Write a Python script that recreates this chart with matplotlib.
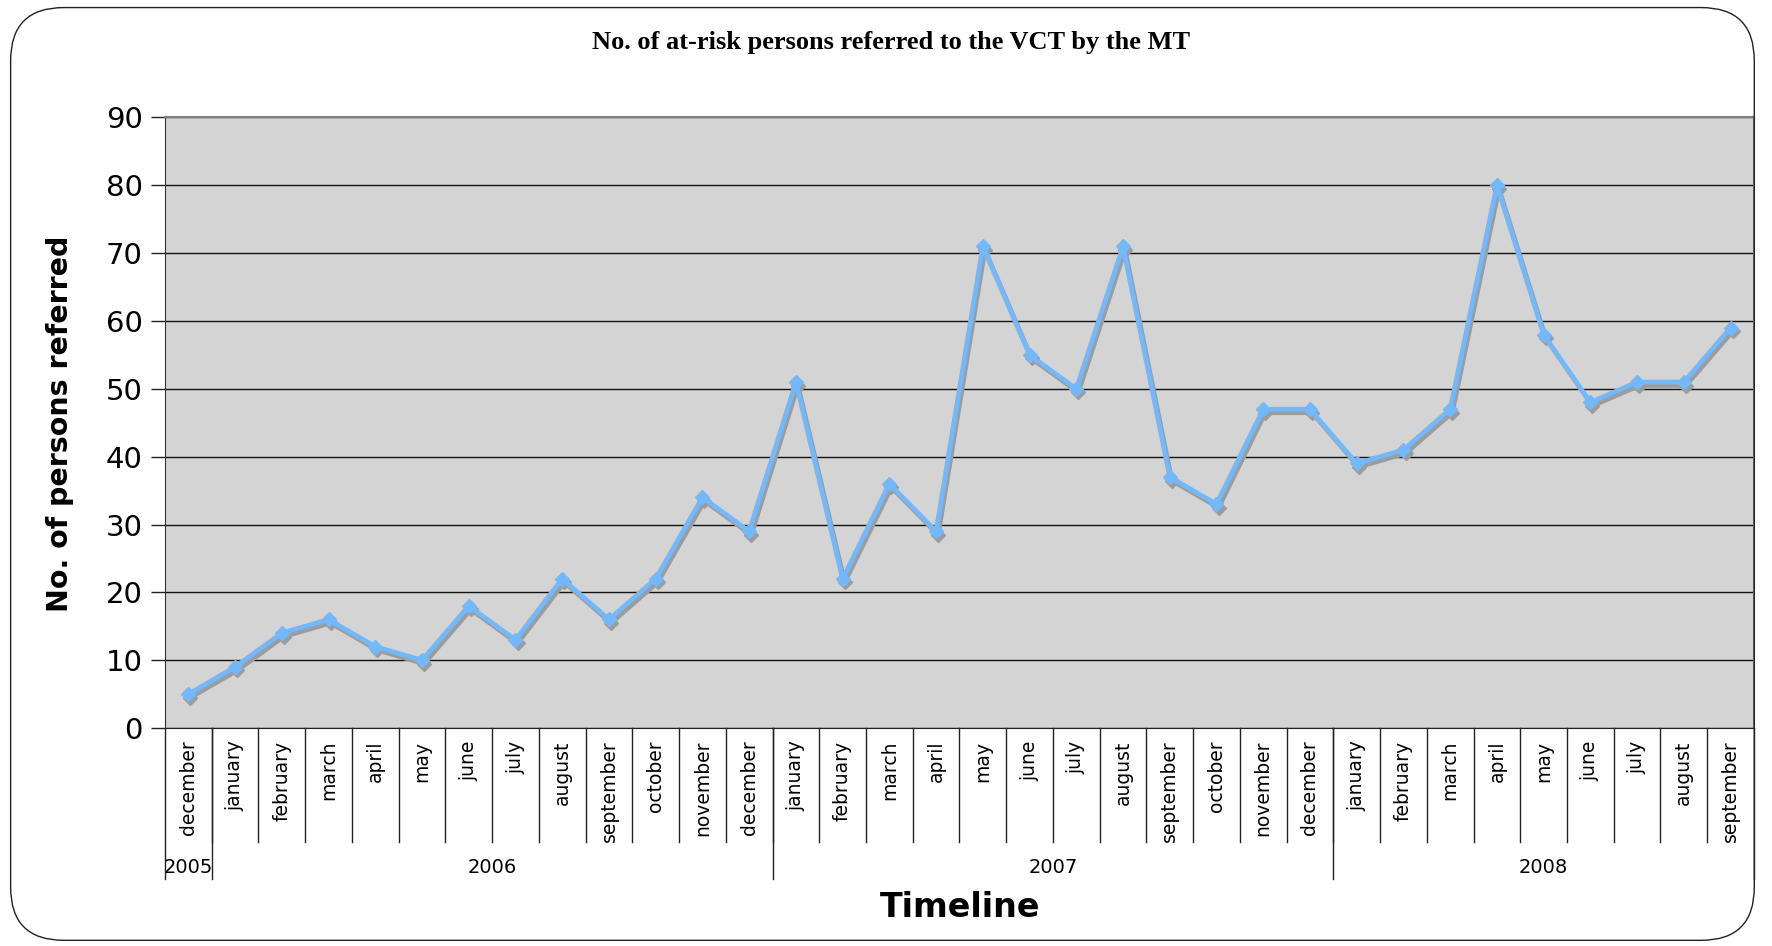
import matplotlib
matplotlib.use("Agg")
import matplotlib.pyplot as plt
import matplotlib.transforms as mtransforms
from matplotlib.patches import FancyBboxPatch
import numpy as np

months = ["december",
          "january", "february", "march", "april", "may", "june", "july",
          "august", "september", "october", "november", "december",
          "january", "february", "march", "april", "may", "june", "july",
          "august", "september", "october", "november", "december",
          "january", "february", "march", "april", "may", "june", "july",
          "august", "september"]
years = ["2005", "2006", "2007", "2008"]
months_per_year = [1, 12, 12, 9]
referred = [5,
            9, 14, 16, 12, 10, 18, 13, 22, 16, 22, 34, 29,
            51, 22, 36, 29, 71, 55, 50, 71, 37, 33, 47, 47,
            39, 41, 47, 80, 58, 48, 51, 51, 59]

fig = plt.figure(figsize=(17.72, 9.46), dpi=100)
fig.patch.set_facecolor("white")

# rounded frame round the whole chart
frame = FancyBboxPatch((0.006, 0.006), 0.984, 0.986, boxstyle="round,pad=0,rounding_size=0.03",
                       transform=fig.transFigure, facecolor="none", edgecolor="#222222",
                       linewidth=1.0, mutation_aspect=1.87)
fig.patches.append(frame)

ax = fig.add_axes([0.0931, 0.2304, 0.8967, 0.6454])
ax.set_facecolor("#d4d4d4")

x = np.arange(len(referred))
shadow = mtransforms.offset_copy(ax.transData, fig=fig, x=1.5, y=-2.5, units="points")
ax.plot(x, referred, color="#9c9c9c", lw=3.4, marker="D", ms=7, transform=shadow, zorder=3)
ax.plot(x, referred, color="#74b8fc", lw=3.4, marker="D", ms=7, zorder=4)

ax.set_xlim(-0.5, len(referred) - 0.5)
ax.set_ylim(0, 90)
ax.set_yticks(range(0, 91, 10))
ax.tick_params(axis="y", labelsize=21, length=10, width=1, color="#222222", pad=6)
ax.yaxis.grid(True, color="#111111", lw=1.0)
ax.set_axisbelow(True)

ax.set_xticks(x)
ax.set_xticklabels(months, rotation=90, fontsize=13.5, va="top")
ax.tick_params(axis="x", length=0, pad=9)

for s in ["top", "right"]:
    ax.spines[s].set_color("#808080")
    ax.spines[s].set_linewidth(1.5)
ax.spines["left"].set_color("#333333")
ax.spines["bottom"].set_color("#222222")

# separators of the two-level category axis
blend = mtransforms.blended_transform_factory(ax.transData, ax.transAxes)
for b in np.arange(0.5, len(referred) - 1, 1):
    ax.plot([b, b], [0, -0.187], transform=blend, color="#222222", lw=1, clip_on=False)
start = -0.5
for yr, n in zip(years, months_per_year):
    ax.plot([start, start], [0, -0.247], transform=blend, color="#222222", lw=1, clip_on=False)
    ax.text(start + n / 2, -0.228, yr, transform=blend, ha="center", va="center", fontsize=14)
    start += n
ax.plot([start, start], [0, -0.247], transform=blend, color="#222222", lw=1, clip_on=False)

fig.text(0.503, 0.955, "No. of at-risk persons referred to the VCT by the MT",
         ha="center", va="center", fontsize=19, fontweight="bold", family="Liberation Serif")
fig.text(0.034, 0.552, "No. of persons referred", rotation=90, ha="center", va="center",
         fontsize=20.5, fontweight="bold")
fig.text(0.542, 0.041, "Timeline", ha="center", va="center", fontsize=24, fontweight="bold")

fig.savefig("out.png", dpi=100)
